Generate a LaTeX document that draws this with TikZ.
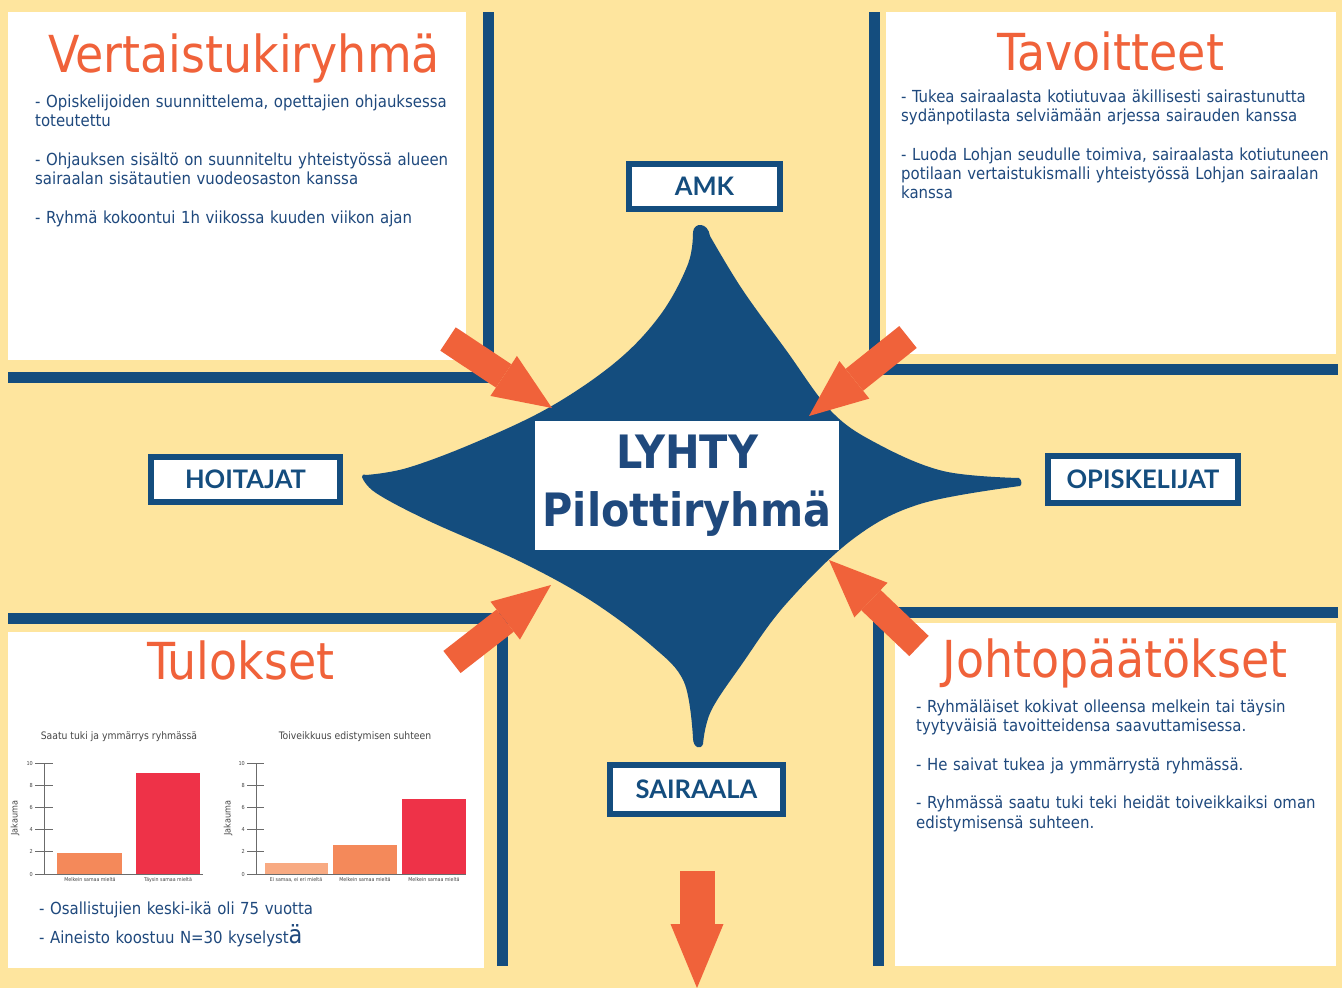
\documentclass[tikz,border=0pt]{standalone}
\usepackage{fontspec}
\setmainfont{DejaVu Sans Condensed}
\newfontfamily\tagfont{Lato}
\usetikzlibrary{arrows.meta}

\definecolor{bgyellow}{RGB}{254,229,158}
\definecolor{barblue}{RGB}{20,77,126}
\definecolor{textblue}{RGB}{31,73,125}
\definecolor{headorange}{RGB}{240,98,58}
\definecolor{chartpeach}{RGB}{248,170,130}
\definecolor{chartorange}{RGB}{244,137,90}
\definecolor{chartred}{RGB}{238,50,72}
\definecolor{chartgray}{RGB}{70,70,70}

\tikzset{
	panel/.style = {fill = white},
	bar/.style = {draw = barblue, line width = 11pt},
	heading/.style = {text = headorange, font = \fontsize{51}{51}\selectfont, inner sep = 0pt, anchor = base},
	bodytext/.style = {text = textblue, font = \fontsize{16.6}{19.3}\selectfont, inner sep = 0pt, anchor = base west, align = left, text width = 470pt},
	tag/.style = {shape = rectangle, draw = barblue, line width = 6pt, fill = white, text = barblue, font = \tagfont\bfseries\fontsize{25.5}{25.5}\selectfont, inner sep = 0pt},
	bigarrow/.style = {headorange, line width = 28pt, -{Triangle[width = 48pt, length = 58pt, line width = 0pt]}},
	charttitle/.style = {text = chartgray, font = \fontsize{10.3}{11}\selectfont, inner sep = 0pt},
	axisline/.style = {draw = chartgray!80, line width = 0.8pt},
	ticklabel/.style = {text = chartgray, font = \fontsize{5.5}{5.5}\selectfont, inner sep = 0pt, anchor = east},
	catlabel/.style = {text = chartgray, font = \fontsize{5.2}{6}\selectfont, inner sep = 0pt},
	yname/.style = {text = chartgray, font = \fontsize{9}{9}\selectfont, inner sep = 0pt, rotate = 90},
}

\begin{document}
\begin{tikzpicture}[x = 1pt, y = -1pt]
	\useasboundingbox (0,0) rectangle (1342,988);
	\fill[bgyellow] (0,0) rectangle (1342,988);
	
	% white panels
	\fill[panel] (8,12) rectangle (466,360);
	\fill[panel] (886,12) rectangle (1336,354);
	\fill[panel] (8,632) rectangle (484,968);
	\fill[panel] (895,623) rectangle (1336,966);
	
	% blue frame bars
	\draw[bar] (488.5,12) |- (8,377);
	\draw[bar] (874.5,12) |- (1338,369.5);
	\draw[bar] (8,618) -| (502,966);
	\draw[bar] (1338,612) -| (878.5,966);
	
	% the star
	\fill[barblue] (693,232) .. controls (694,222) and (708,222) .. (710,236)
		-- plot[smooth, tension = 0.6] coordinates {(710,236) (742,289) (786,350) (831,411) (876,443) (943,471) (1019,478)}
		.. controls (1022,480) and (1022,485) .. (1020,486)
		-- plot[smooth, tension = 0.6] coordinates {(1020,486) (920,504) (853,539) (786,604) (742,664) (711,711) (703,744)}
		.. controls (701,750) and (693,748) .. (693,738)
		-- plot[smooth, tension = 0.6] coordinates {(693,738) (684,682) (652,646) (590,600) (519,561) (429,521) (376,493) (362,477)}
		.. controls (362,475) and (363,474) .. (366,475)
		-- plot[smooth, tension = 0.6] coordinates {(366,475) (407,468) (474,443) (550,407) (617,361) (661,314) (688,264) (693,232)}
		-- cycle;
	
	\node[fill = white, minimum width = 304pt, minimum height = 129pt, inner sep = 0pt] (hubbox) at (687,485.5) {};
	\node[text = textblue, font = \bfseries\fontsize{46}{58}\selectfont, text width = 304pt, align = center, anchor = base, inner sep = 0pt] (hubtext) at (687,468) {LYHTY\\Pilottiryhmä};
	
	% arrows into the star
	\coordinate (ulTail) at (448,339);
	\coordinate (ulTip) at (552,408);
	\coordinate (urTail) at (908,337);
	\coordinate (urTip) at (809,416);
	\coordinate (llTail) at (452,662);
	\coordinate (llTip) at (551,585);
	\coordinate (lrTail) at (919,646);
	\coordinate (lrTip) at (829,560);
	\coordinate (downTail) at (697,871);
	\coordinate (downTip) at (697,988);
	\draw[bigarrow] (ulTail) -- (ulTip);
	\draw[bigarrow] (urTail) -- (urTip);
	\draw[bigarrow] (llTail) -- (llTip);
	\draw[bigarrow] (lrTail) -- (lrTip);
	\draw[bigarrow, line width = 35pt, -{Triangle[width = 53pt, length = 64pt, line width = 0pt]}] (downTail) -- (downTip);
	
	% tags
	\node[tag, minimum width = 151pt, minimum height = 45pt] (amk) at (704.5,186.5) {AMK};
	\node[tag, minimum width = 189pt, minimum height = 45pt] (hoitajat) at (245.5,479.5) {HOITAJAT};
	\node[tag, minimum width = 190pt, minimum height = 47pt] (opiskelijat) at (1143,479.5) {OPISKELIJAT};
	\node[tag, minimum width = 173pt, minimum height = 49pt] (sairaala) at (696.5,789.5) {SAIRAALA};
	
	% headings
	\node[heading] (vertais) at (244,72) {Vertaistukiryhmä};
	\node[heading] (tavoitteet) at (1111,70) {Tavoitteet};
	\node[heading] (tulokset) at (241,679) {Tulokset};
	\node[heading] (johto) at (1115,677) {Johtopäätökset};
	
	% panel texts
	\node[bodytext] (vertaisText) at (35,107) {- Opiskelijoiden suunnittelema, opettajien ohjauksessa\\toteutettu\\[19.5pt]- Ohjauksen sisältö on suunniteltu yhteistyössä alueen\\sairaalan sisätautien vuodeosaston kanssa\\[19.5pt]- Ryhmä kokoontui 1h viikossa kuuden viikon ajan};
	\node[bodytext] (tavoitText) at (901,102) {- Tukea sairaalasta kotiutuvaa äkillisesti sairastunutta\\sydänpotilasta selviämään arjessa sairauden kanssa\\[19.5pt]- Luoda Lohjan seudulle toimiva, sairaalasta kotiutuneen\\potilaan vertaistukismalli yhteistyössä Lohjan sairaalan\\kanssa};
	\node[bodytext] (johtoText) at (916,712) {- Ryhmäläiset kokivat olleensa melkein tai täysin\\tyytyväisiä tavoitteidensa saavuttamisessa.\\[19.5pt]- He saivat tukea ja ymmärrystä ryhmässä.\\[19.5pt]- Ryhmässä saatu tuki teki heidät toiveikkaiksi oman\\edistymisensä suhteen.};
	\node[bodytext] (tulosText1) at (39,914) {- Osallistujien keski-ikä oli 75 vuotta};
	\node[bodytext] (tulosText2) at (39,943) {- Aineisto koostuu N=30 kyselyst{\fontsize{25}{25}\selectfont ä}};
	
	% chart 1
	\node[charttitle] (c1title) at (119,737) {Saatu tuki ja ymmärrys ryhmässä};
	\node[yname] (c1name) at (15,818) {Jakauma};
	\fill[chartorange] (57,874) rectangle (122,853);
	\fill[chartred] (136,874) rectangle (200,773);
	\draw[axisline] (44,763) -- (44,874) -- (203,874);
	\foreach \v in {0,2,...,10} {
		\draw[axisline] (35,{874-11.1*\v}) -- (53,{874-11.1*\v});
		\node[ticklabel] (c1y\v) at (33,{874-11.1*\v}) {\v};
	}
	\node[catlabel] (c1a) at (90,880) {Melkein samaa mieltä};
	\node[catlabel] (c1b) at (168,880) {Täysin samaa mieltä};
	
	% chart 2
	\node[charttitle] (c2title) at (355,737) {Toiveikkuus edistymisen suhteen};
	\node[yname] (c2name) at (228,818) {Jakauma};
	\fill[chartpeach] (265,874) rectangle (328,863);
	\fill[chartorange] (333,874) rectangle (397,845);
	\fill[chartred] (402,874) rectangle (466,799);
	\draw[axisline] (256,763) -- (256,874) -- (466,874);
	\foreach \v in {0,2,...,10} {
		\draw[axisline] (247,{874-11.1*\v}) -- (264,{874-11.1*\v});
		\node[ticklabel] (c2y\v) at (245,{874-11.1*\v}) {\v};
	}
	\node[catlabel] (c2a) at (296,880) {Ei samaa, ei eri mieltä};
	\node[catlabel] (c2b) at (365,880) {Melkein samaa mieltä};
	\node[catlabel] (c2c) at (434,880) {Melkein samaa mieltä};
\end{tikzpicture}
\end{document}
